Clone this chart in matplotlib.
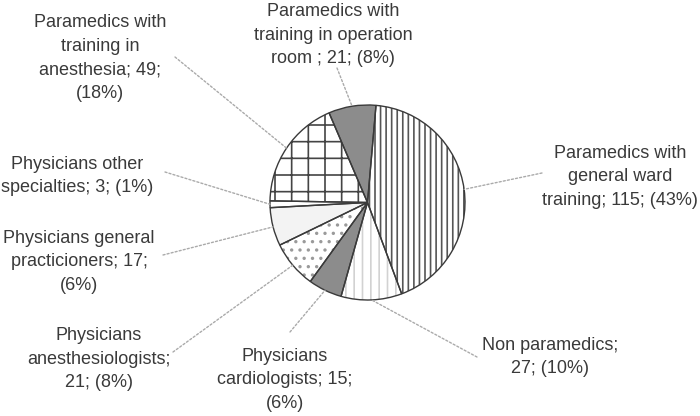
import numpy as np
import matplotlib
matplotlib.use("Agg")
import matplotlib.pyplot as plt

# ---- data ----
categories = [
    "Paramedics with\ngeneral ward\ntraining",
    "Non paramedics",
    "Physicians\ncardiologists",
    "Physicians\nanesthesiologists",
    "Physicians general\npracticioners",
    "Physicians other\nspecialties",
    "Paramedics with\ntraining in\nanesthesia",
    "Paramedics with\ntraining in operation\nroom ",
]
values = [115, 27, 15, 21, 17, 3, 49, 21]
label_texts = [
    "Paramedics with\ngeneral ward\ntraining; 115; (43%)",
    "Non paramedics;\n27; (10%)",
    "Physicians\ncardiologists; 15;\n(6%)",
    "Physicians\nanesthesiologists;\n21; (8%)",
    "Physicians general\npracticioners; 17;\n(6%)",
    "Physicians other\nspecialties; 3; (1%)",
    "Paramedics with\ntraining in\nanesthesia; 49;\n(18%)",
    "Paramedics with\ntraining in operation\nroom ; 21; (8%)",
]

# ---- styles ----
facecolors = ["white", "white", "#8c8c8c", "white", "#f3f3f3", "white", "white", "#8c8c8c"]
hatches = ["|||", "||", None, "..", None, None, "+", None]
hatchcolors = ["#555555", "#d2d2d2", "#8c8c8c", "#9a9a9a", "#f3f3f3", "white", "#444444", "#8c8c8c"]
# label centre positions (pixels from top-left) and leader start points
label_pos = [(620, 177), (550, 357), (285, 380), (99, 359), (79, 262), (77, 176), (100, 58), (333, 35)]
leader_start = [(542, 173), (477, 357), (290, 332), (173, 352), (163, 255), (165, 172), (175, 57), (337, 68)]

W, H = 700, 416
plt.rcParams["hatch.linewidth"] = 1.2
fig = plt.figure(figsize=(W / 100, H / 100), dpi=100)
fig.patch.set_facecolor("white")

cx, cy, r = 367.5, 202.5, 97.5
ax = fig.add_axes([(cx - r) / W, (H - cy - r) / H, 2 * r / W, 2 * r / H])
startangle = 85

wedges, _ = ax.pie(values, startangle=startangle, counterclock=False, radius=1,
                   wedgeprops=dict(linewidth=0))
for w, fc, hc, hh in zip(wedges, facecolors, hatchcolors, hatches):
    w.set_facecolor(fc)
    w.set_edgecolor(hc)
    if hh:
        w.set_hatch(hh)
outline, _ = ax.pie(values, startangle=startangle, counterclock=False, radius=1,
                    wedgeprops=dict(fill=False, edgecolor="#3a3a3a", linewidth=1.0))
ax.set_xlim(-1, 1)
ax.set_ylim(-1, 1)
ax.set_aspect("equal")
ax.axis("off")

fam = ["Liberation Sans", "DejaVu Sans"]
for w, txt, (lx, ly), (sx, sy) in zip(wedges, label_texts, label_pos, leader_start):
    mid = np.deg2rad((w.theta1 + w.theta2) / 2)
    px, py = np.cos(mid) * 1.0, np.sin(mid) * 1.0
    ax.annotate("", xy=(px, py), xytext=(sx / W, 1 - sy / H), textcoords="figure fraction",
                arrowprops=dict(arrowstyle="-", color="#aaaaaa", lw=1.0,
                                linestyle=(0, (1.5, 1.5)), shrinkA=0, shrinkB=0),
                annotation_clip=False)
    fig.text(lx / W, 1 - ly / H, txt, ha="center", va="center", multialignment="center",
             fontsize=13, family=fam, color="#3a3a3a", linespacing=1.5)

fig.savefig("out.png", dpi=100, facecolor="white")
